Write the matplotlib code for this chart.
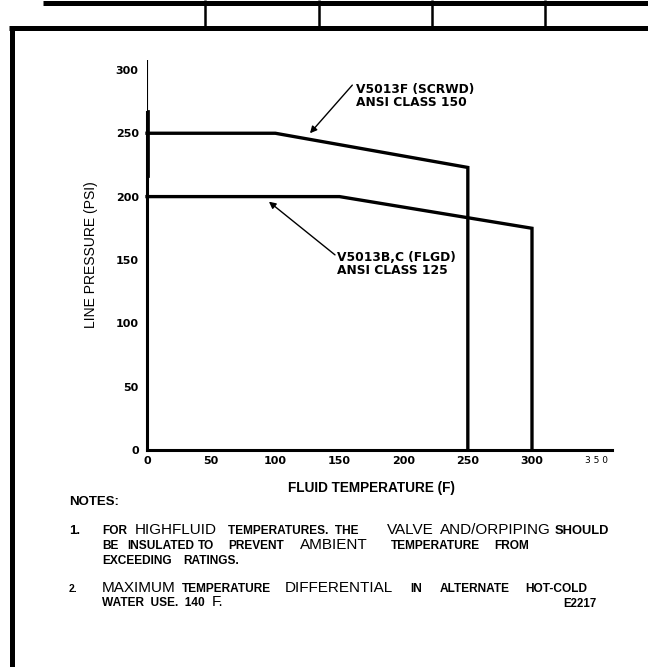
import numpy as np
import matplotlib
matplotlib.use('Agg')
import matplotlib.pyplot as plt

# valores
temp_f = [0, 100, 250, 250]
press_f = [250, 250, 223, 0]
temp_bc = [0, 150, 300, 300]
press_bc = [200, 200, 175, 0]

x_ticks = [0, 50, 100, 150, 200, 250, 300, 350]
x_labels = ['0', '50', '100', '150', '200', '250', '300', '3 5 0']
y_ticks = [0, 50, 100, 150, 200, 250, 300]

label_f = 'V5013F (SCRWD)\nANSI CLASS 150'
label_bc = 'V5013B,C (FLGD)\nANSI CLASS 125'

# notas: (x em pixels, texto, estilo) por linha
note1 = [
    [(102, 'FOR', 's'), (135, 'HIGHFLUID', 'L'), (228, 'TEMPERATURES.  THE', 's'),
     (387, 'VALVE', 'L'), (440, 'AND/ORPIPING', 'L'), (555, 'SHOULD', 'm')],
    [(102, 'BE', 's'), (127, 'INSULATED', 's'), (198, 'TO', 's'),
     (228, 'PREVENT', 's'), (300, 'AMBIENT', 'L'), (391, 'TEMPERATURE', 's'),
     (494, 'FROM', 's')],
    [(102, 'EXCEEDING', 's'), (183, 'RATINGS.', 's')],
]
note2 = [
    [(102, 'MAXIMUM', 'L'), (182, 'TEMPERATURE', 's'), (285, 'DIFFERENTIAL', 'L'),
     (410, 'IN', 's'), (440, 'ALTERNATE', 's'), (525, 'HOT-COLD', 's')],
    [(102, 'WATER  USE.  140', 's'), (212, 'F.', 'L')],
]

styles = {
    's': dict(fontsize=8.6, fontweight='bold', family='Liberation Sans'),
    'm': dict(fontsize=9.3, fontweight='bold', family='Liberation Sans'),
    'L': dict(fontsize=11, fontweight='normal', family='Liberation Sans'),
}

fig = plt.figure(figsize=(6.48, 6.67), dpi=100)

# camada em pixels para moldura e notas
fa = fig.add_axes([0, 0, 1, 1])
fa.set_xlim(0, 648)
fa.set_ylim(667, 0)
fa.axis('off')

fa.plot([43, 648], [2.5, 2.5], color='black', lw=3.6, solid_capstyle='butt')
fa.plot([9, 648], [27.5, 27.5], color='black', lw=3.6, solid_capstyle='butt')
fa.plot([11.5, 11.5], [26, 667], color='black', lw=3.6, solid_capstyle='butt')
for xd in [205, 319, 432, 545]:
    fa.plot([xd, xd], [0, 27], color='black', lw=1.8, solid_capstyle='butt')

# grafico principal
ax = fig.add_axes([147 / 648, 217 / 667, 362 * 1.2833 / 648, 308 * 1.267 / 667])
ax.set_xlim(0, 362)
ax.set_ylim(0, 308)
ax.patch.set_alpha(0)

ax.plot(temp_f, press_f, color='black', lw=2.4, clip_on=False,
        solid_joinstyle='miter')
ax.plot(temp_bc, press_bc, color='black', lw=2.4, clip_on=False,
        solid_joinstyle='miter')

for s in ['top', 'right']:
    ax.spines[s].set_visible(False)
ax.spines['left'].set_linewidth(2.2)
ax.spines['left'].set_bounds(0, 267)
ax.spines['bottom'].set_linewidth(2.2)
ax.axvline(0, ymin=267 / 308, ymax=1, color='black', lw=0.8)
ax.axvline(0, ymin=217 / 308, ymax=267 / 308, color='black', lw=3.4)

ax.set_xticks(x_ticks)
ax.set_xticklabels(x_labels, fontsize=8, fontweight='bold')
ax.set_yticks(y_ticks)
ax.set_yticklabels([str(v) for v in y_ticks], fontsize=8, fontweight='bold')
ax.tick_params(axis='x', length=0, pad=4)
ax.tick_params(axis='y', length=0, pad=6)
lab350 = ax.get_xticklabels()[-1]
lab350.set_fontsize(6.5)
lab350.set_fontweight('normal')

# anotacoes
ax.annotate('', xy=(127, 250), xytext=(160, 288),
            arrowprops=dict(arrowstyle='-|>', lw=1, color='black',
                            mutation_scale=10, shrinkA=0, shrinkB=0))
ax.text(163, 290, label_f, ha='left', va='top', fontsize=8.8,
        fontweight='bold', linespacing=1.0)
ax.annotate('', xy=(95, 196), xytext=(146.5, 154),
            arrowprops=dict(arrowstyle='-|>', lw=1, color='black',
                            mutation_scale=10, shrinkA=0, shrinkB=0))
ax.text(148, 157, label_bc, ha='left', va='top', fontsize=8.8,
        fontweight='bold', linespacing=1.0)

fig.text(91 / 648, 1 - 255 / 667, 'LINE PRESSURE (PSI)', rotation=90,
         ha='center', va='center', fontsize=10, family='Liberation Sans')
fa.text(288, 488, 'FLUID TEMPERATURE (F)', ha='left', va='center',
        fontsize=9.8, fontweight='bold', family='Liberation Sans')

# notas
fa.text(69, 505, 'NOTES:', ha='left', va='baseline', fontsize=9.5,
        fontweight='bold', family='Liberation Sans')
fa.text(69, 534, '1.', ha='left', va='baseline', fontsize=9.5,
        fontweight='bold', family='Liberation Sans')
for i, parts in enumerate(note1):
    for xp, txt, st in parts:
        fa.text(xp, 534 + 15 * i, txt, ha='left', va='baseline', **styles[st])
fa.text(69, 592, '2.', ha='left', va='baseline', fontsize=7.5,
        fontweight='bold', family='Liberation Sans')
for i, parts in enumerate(note2):
    for xp, txt, st in parts:
        fa.text(xp, 592 + 14 * i, txt, ha='left', va='baseline', **styles[st])
fa.text(597, 607, 'E2217', ha='right', va='baseline', fontsize=8.3,
        fontweight='bold', family='Liberation Sans')

fig.savefig('out.png', dpi=100)
